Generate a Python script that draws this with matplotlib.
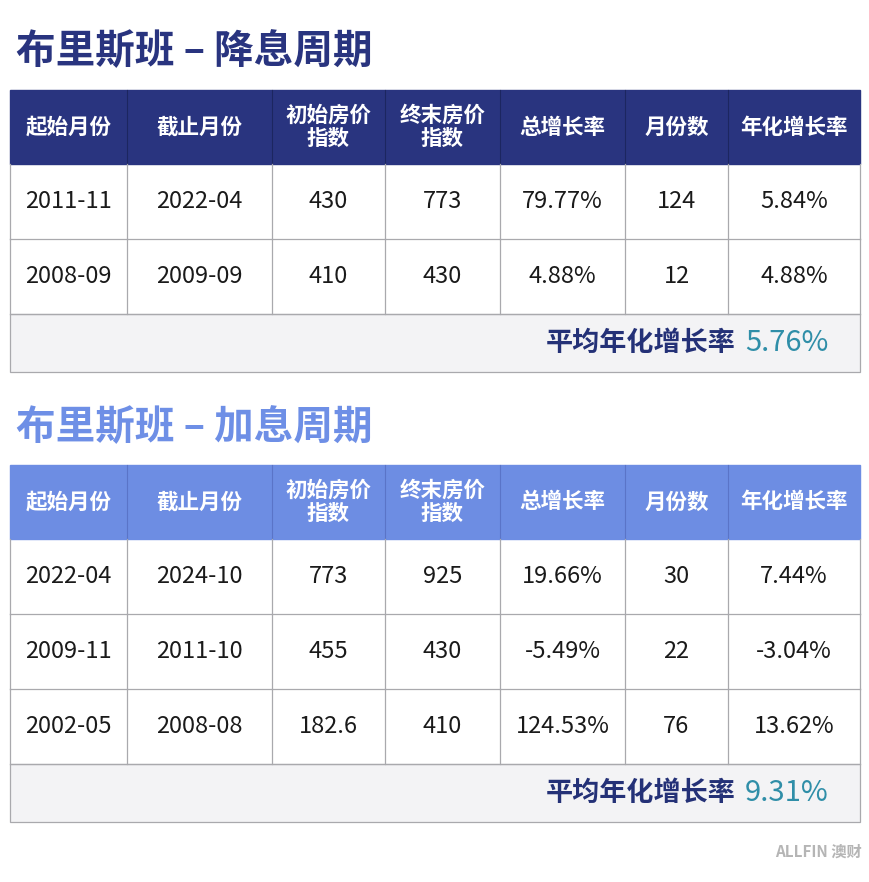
import matplotlib
matplotlib.use("Agg")
import matplotlib.pyplot as plt
from matplotlib.patches import Rectangle

plt.rcParams['font.family'] = ['Noto Sans CJK SC', 'DejaVu Sans']

headers = ["起始月份", "截止月份", "初始房价\n指数", "终末房价\n指数", "总增长率", "月份数", "年化增长率"]
title1 = "布里斯班 – 降息周期"
start1 = ["2011-11", "2008-09"]
end1 = ["2022-04", "2009-09"]
init1 = ["430", "410"]
final1 = ["773", "430"]
growth1 = ["79.77%", "4.88%"]
months1 = ["124", "12"]
annual1 = ["5.84%", "4.88%"]
avg1 = "5.76%"

title2 = "布里斯班 – 加息周期"
start2 = ["2022-04", "2009-11", "2002-05"]
end2 = ["2024-10", "2011-10", "2008-08"]
init2 = ["773", "455", "182.6"]
final2 = ["925", "430", "410"]
growth2 = ["19.66%", "-5.49%", "124.53%"]
months2 = ["30", "22", "76"]
annual2 = ["7.44%", "-3.04%", "13.62%"]
avg2 = "9.31%"

cols = [10, 127, 272, 385, 500, 625, 728, 860]
grid = "#a9a9ad"

fig = plt.figure(figsize=(8.7, 8.82), dpi=100)
ax = fig.add_axes([0, 0, 1, 1])
ax.set_xlim(0, 870); ax.set_ylim(882, 0); ax.axis('off')

def table(ty, title, tcolor, hcolor, top, rows, avg):
    ax.text(16, ty, title, fontsize=28.5, fontweight='black', color=tcolor, va='center', ha='left')
    hh, rh = 74, 75
    ax.add_patch(Rectangle((cols[0], top), cols[-1]-cols[0], hh, color=hcolor, zorder=1))
    for i, h in enumerate(headers):
        ax.text((cols[i]+cols[i+1])/2, top+hh/2, h, fontsize=15.5, fontweight='bold', color='white',
                ha='center', va='center', linespacing=1.1)
    for c in cols[1:-1]:
        ax.plot([c, c], [top, top+hh], color='#1c2660' if hcolor == '#29347f' else '#5a74c8', lw=0.8)
    y = top + hh
    for r in rows:
        for i, v in enumerate(r):
            ax.text((cols[i]+cols[i+1])/2, y+rh/2, v, fontsize=17, color='#1a1a1a', ha='center', va='center')
        for c in cols:
            ax.plot([c, c], [y, y+rh], color=grid, lw=0.9)
        ax.plot([cols[0], cols[-1]], [y+rh, y+rh], color=grid, lw=0.9)
        y += rh
    sh = 58
    ax.add_patch(Rectangle((cols[0], y), cols[-1]-cols[0], sh, facecolor='#f3f3f5', edgecolor=grid, lw=0.9))
    ax.text(736, y+sh/2, "平均年化增长率", fontsize=19.5, fontweight='bold', color='#243177', ha='right', va='center')
    ax.text(745, y+sh/2, avg, fontsize=21, color='#2f8ea8', ha='left', va='center')

rows1 = list(zip(start1, end1, init1, final1, growth1, months1, annual1))
rows2 = list(zip(start2, end2, init2, final2, growth2, months2, annual2))
table(52, title1, '#29347f', '#29347f', 90, rows1, avg1)
table(428, title2, '#6e8fe6', '#6d8de3', 465, rows2, avg2)
ax.text(862, 852, "ALLFIN 澳财", fontsize=11, fontweight='bold', color='#b5b5b5', ha='right', va='center')

fig.savefig("out.png", dpi=100, facecolor='white')
